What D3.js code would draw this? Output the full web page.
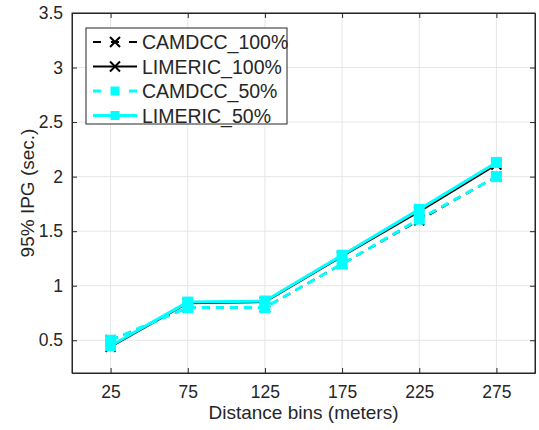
<!DOCTYPE html>
<html>
<head>
<meta charset="utf-8">
<script src="https://cdn.jsdelivr.net/npm/d3@7"></script>
<style>
  body { margin: 0; background: #fff; }
  text { font-family: "Liberation Sans", Arial, sans-serif; fill: #262626; }
  .grid line { stroke: #e6e6e6; stroke-width: 1; }
</style>
</head>
<body>
<div id="chart"></div>
<script>
const distances = [25, 75, 125, 175, 225, 275];
const camdcc100 = [0.50, 0.80, 0.80, 1.20, 1.60, 2.00];
const limeric100 = [0.44, 0.84, 0.85, 1.27, 1.68, 2.11];
const camdcc50 = [0.50, 0.80, 0.80, 1.20, 1.61, 2.00];
const limeric50 = [0.45, 0.85, 0.86, 1.28, 1.70, 2.13];
const yTicks = [0.5, 1, 1.5, 2, 2.5, 3, 3.5];
const seriesNames = ['CAMDCC_100%', 'LIMERIC_100%', 'CAMDCC_50%', 'LIMERIC_50%'];

const series = [
  {name: seriesNames[0], values: camdcc100, color: '#000', dash: '8,6', width: 2, marker: 'x'},
  {name: seriesNames[1], values: limeric100, color: '#000', dash: null, width: 2, marker: 'x'},
  {name: seriesNames[2], values: camdcc50, color: '#00ffff', dash: '8,6', width: 3, marker: 'sq'},
  {name: seriesNames[3], values: limeric50, color: '#00ffff', dash: null, width: 3, marker: 'sq'}
];

const margin = {top: 13, right: 4, bottom: 57, left: 72};
const width = 539 - margin.left - margin.right;
const height = 430 - margin.top - margin.bottom;

const svg = d3.select('#chart')
  .append('svg')
  .attr('width', 539)
  .attr('height', 430)
  .append('g')
  .attr('transform', `translate(${margin.left}, ${margin.top})`);

const x = d3.scaleLinear().domain([0, 300]).range([0, width]);
const y = d3.scaleLinear().domain([0.2, 3.5]).range([height, 0]);

// grid
svg.append('g').attr('class', 'grid')
  .selectAll('line').data(distances).join('line')
  .attr('x1', d => x(d)).attr('x2', d => x(d))
  .attr('y1', 0).attr('y2', height);
svg.append('g').attr('class', 'grid')
  .selectAll('line').data(yTicks).join('line')
  .attr('y1', d => y(d)).attr('y2', d => y(d))
  .attr('x1', 0).attr('x2', width);

// axes
const xAxis = svg.append('g')
  .attr('transform', `translate(0, ${height})`)
  .call(d3.axisBottom(x).tickValues(distances).tickSizeInner(-5).tickSizeOuter(0).tickPadding(13));
const xTop = svg.append('g')
  .call(d3.axisTop(x).tickValues(distances).tickSizeInner(-5).tickSizeOuter(0).tickFormat(''));
const yAxis = svg.append('g')
  .call(d3.axisLeft(y).tickValues(yTicks).tickSizeInner(-5).tickSizeOuter(0).tickPadding(9).tickFormat(d3.format('')));
const yRight = svg.append('g')
  .attr('transform', `translate(${width}, 0)`)
  .call(d3.axisRight(y).tickValues(yTicks).tickSizeInner(-5).tickSizeOuter(0).tickFormat(''));

[xAxis, xTop, yAxis, yRight].forEach(g => {
  g.select('.domain').attr('stroke', '#262626');
  g.selectAll('.tick line').attr('stroke', '#262626');
  g.selectAll('text').style('font-size', '17.5px').attr('fill', '#262626');
});

svg.append('text')
  .attr('x', width / 2)
  .attr('y', height + 46)
  .attr('text-anchor', 'middle')
  .style('font-size', '19px')
  .text('Distance bins (meters)');

svg.append('text')
  .attr('transform', `translate(${-38}, ${height / 2}) rotate(-90)`)
  .attr('text-anchor', 'middle')
  .style('font-size', '19px')
  .text('95% IPG (sec.)');

const line = d3.line()
  .x((d, i) => x(distances[i]))
  .y(d => y(d));

const drawMarker = (g, s, cx, cy, sq = 5.5) => {
  if (s.marker === 'x') {
    const r = 5;
    g.append('path')
      .attr('d', `M${cx - r},${cy - r}L${cx + r},${cy + r}M${cx - r},${cy + r}L${cx + r},${cy - r}`)
      .attr('stroke', s.color).attr('stroke-width', 2).attr('fill', 'none');
  } else {
    g.append('rect')
      .attr('x', cx - sq).attr('y', cy - sq)
      .attr('width', 2 * sq).attr('height', 2 * sq)
      .attr('fill', s.color);
  }
};

series.forEach(s => {
  const g = svg.append('g');
  g.append('path')
    .datum(s.values)
    .attr('d', line)
    .attr('fill', 'none')
    .attr('stroke', s.color)
    .attr('stroke-width', s.width)
    .attr('stroke-dasharray', s.dash);
  s.values.forEach((v, i) => drawMarker(g, s, x(distances[i]), y(v)));
});

// box
svg.append('rect')
  .attr('width', width).attr('height', height)
  .attr('fill', 'none').attr('stroke', '#262626').attr('stroke-width', 1);

// legend
const legend = svg.append('g').attr('transform', 'translate(14, 15)');
legend.append('rect')
  .attr('width', 201).attr('height', 96)
  .attr('fill', '#fff').attr('stroke', '#262626').attr('stroke-width', 1);
series.forEach((s, i) => {
  const ly = 14 + i * 24.5;
  const g = legend.append('g');
  g.append('line')
    .attr('x1', 7).attr('x2', 51)
    .attr('y1', ly).attr('y2', ly)
    .attr('stroke', s.color)
    .attr('stroke-width', s.width)
    .attr('stroke-dasharray', s.dash ? '8,10' : null);
  drawMarker(g, s, 29, ly, 4.5);
  g.append('text')
    .attr('x', 56).attr('y', ly)
    .attr('dy', '0.36em')
    .style('font-size', '19.5px')
    .attr('fill', '#000')
    .text(s.name);
});
</script>
</body>
</html>
